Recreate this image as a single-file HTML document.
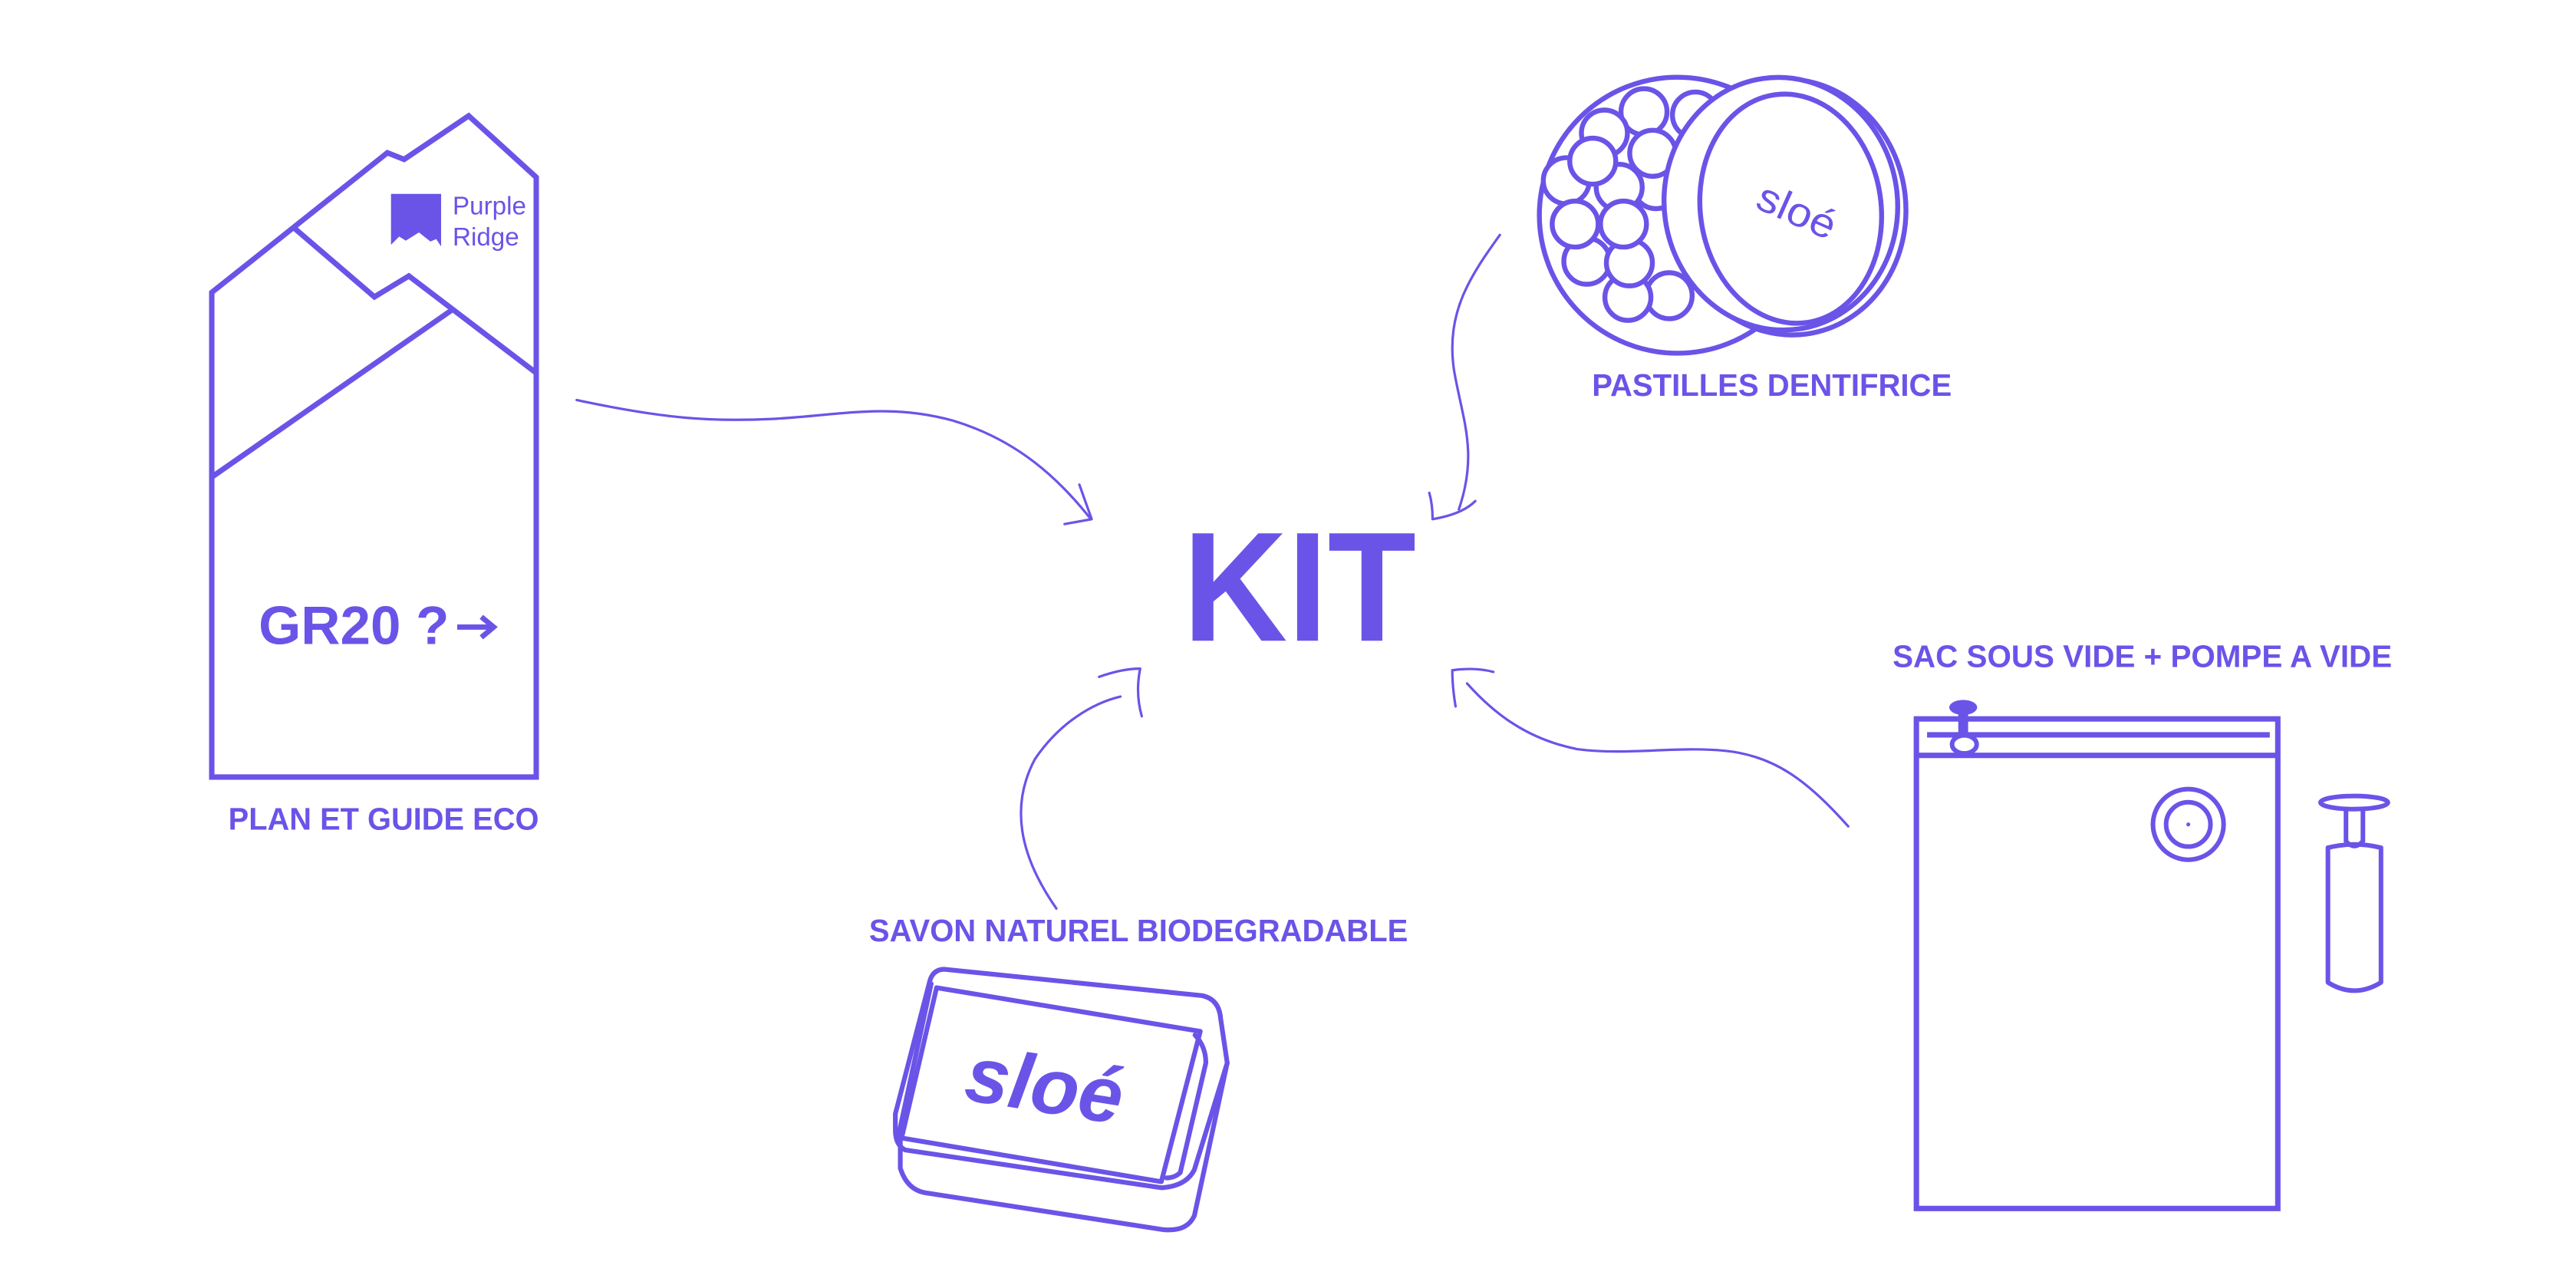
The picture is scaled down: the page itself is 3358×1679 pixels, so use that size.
<!DOCTYPE html>
<html><head><meta charset="utf-8"><style>
html,body{margin:0;padding:0;background:#fff;}
svg{display:block;}
text{font-family:"Liberation Sans",Arial,sans-serif;fill:#6a54e8;}
</style></head><body>
<svg width="3358" height="1679" viewBox="0 0 1568 784" xmlns="http://www.w3.org/2000/svg">
<rect width="1568" height="784" fill="#fff"/>
<g fill="none" stroke="#6a54e8" stroke-linecap="round" stroke-linejoin="round">
  <!-- connectors -->
  <g stroke-width="1.5">
    <path d="M351,243.5 C400,254 430,257 470,255 C510,253 540,245 580,256 C620,268 645,292 664,316"/>
    <path d="M657,295 L664.5,316 L648,319" />
    <path d="M913,143 C895,168 880,190 885,225 C890,255 900,275 888,310"/>
    <path d="M870,300 Q872,307 872,316 Q890,313 898,305"/>
    <path d="M643,553 C620,520 615,490 630,462 C645,440 665,428 682,424"/>
    <path d="M669,412 Q683,407 694,407 Q691,422 695,436"/>
    <path d="M1125,503 C1100,475 1080,460 1050,457 C1020,454 990,460 960,456 C930,450 910,435 893,416"/>
    <path d="M886,430 Q884,418 884,408 Q898,406 909,409"/>
  </g>

  <!-- plan & guide -->
  <g stroke-width="3.3" stroke-linecap="butt" stroke-linejoin="miter">
    <path d="M128.9,473 V178 L235.8,93 L246,97 L285.3,70.5 L326.4,107.9 V473 Z"/>
    <path d="M179.3,139 L227.9,180.7 L248.9,168 L326.4,227"/>
    <path d="M128.9,290.4 L274.6,189"/>
  </g>
  <path d="M278.3,381.7 H300 M293,375.5 L300.5,381.7 L293,388" stroke-width="3.2" stroke-linecap="butt" stroke-linejoin="miter"/>

  <!-- pastilles -->
  <g stroke-width="3" fill="#fff">
    <circle cx="1021" cy="131" r="84"/>
    <circle cx="1032" cy="70" r="14"/>
    <circle cx="1000.7" cy="68" r="14"/>
    <circle cx="976.6" cy="81" r="14"/>
    <circle cx="1016" cy="180" r="14"/>
    <circle cx="990.9" cy="181" r="14"/>
    <circle cx="965.9" cy="159" r="14"/>
    <circle cx="991.8" cy="160" r="14"/>
    <circle cx="1008" cy="113" r="14"/>
    <circle cx="974.8" cy="121" r="14"/>
    <circle cx="953.4" cy="110" r="14"/>
    <circle cx="1006" cy="93.3" r="14"/>
    <circle cx="985.6" cy="114" r="14"/>
    <circle cx="969.5" cy="98.1" r="14"/>
    <circle cx="958.8" cy="136.4" r="14"/>
    <circle cx="988.2" cy="136.4" r="14"/>
    <ellipse cx="1089" cy="126" rx="71" ry="78" transform="rotate(-8 1089 126)"/>
    <ellipse cx="1084" cy="124" rx="71" ry="77" transform="rotate(-8 1084 124)"/>
    <ellipse cx="1090" cy="127" rx="55" ry="70" transform="rotate(-8 1090 127)"/>
  </g>

  <!-- soap -->
  <g stroke-width="2.9">
    <path d="M548,693 L548,711 Q552,724 563,726 L705,748 Q722,751 727,740 L747,647"/>
    <path d="M575,590 L731.5,606 Q742,608 743,620 L747,647 L727,712 Q722,722 707,723 L551,700 Q545,697 545,688 L545,678 L566,597 Q568,590 575,590 Z"/>
    <path d="M570.1,601.2 L730.6,627.8 L706.9,719.3 L548.8,692.7 Z"/>
    <path d="M566.8,598.8 L546.4,693.5"/>
    <path d="M727.4,630 Q734,637 734,647 L718.4,713.8 Q715,717 710,717"/>
  </g>

  <!-- bag -->
  <g stroke-width="3.3" stroke-linecap="butt" stroke-linejoin="miter">
    <rect x="1166.5" y="437.6" width="220" height="298"/>
    <path d="M1166.5,459.8 H1386.5"/>
    <path d="M1173,447.3 H1381.6"/>
  </g>
  <ellipse cx="1195" cy="430.6" rx="8.5" ry="4.6" fill="#6a54e8" stroke="none"/>
  <rect x="1192" y="430" width="6" height="20" fill="#6a54e8" stroke="none"/>
  <ellipse cx="1195.7" cy="453.1" rx="7.5" ry="5.5" fill="#fff" stroke-width="2.8"/>
  <g stroke-width="2.8">
    <circle cx="1332" cy="501.8" r="21.5"/>
    <circle cx="1332" cy="501.8" r="13.5"/>
  </g>
  <circle cx="1332" cy="501.8" r="1.2" fill="#6a54e8" stroke="none"/>
  <g stroke-width="2.8">
    <ellipse cx="1433" cy="488.5" rx="20.5" ry="4"/>
    <path d="M1428,492.5 V512 Q1433,518 1438.3,512 V492.5"/>
    <path d="M1417,516 Q1433,512 1449.3,516 V598 Q1433,608 1417,598 Z"/>
  </g>
</g>

<!-- logo -->
<path d="M238,118 H268.5 V150 L265.5,145.5 L262,147 L255,141.5 L247,146.5 L243,144 L238,149 Z" fill="#6a54e8"/>
<text x="275.5" y="130.5" font-size="15.5">Purple</text>
<text x="275.5" y="149.5" font-size="15.5">Ridge</text>
<text x="157.4" y="392" font-size="33" font-weight="bold" textLength="116" lengthAdjust="spacingAndGlyphs">GR20 ?</text>

<!-- sloé labels -->
<text x="1094" y="137" font-size="25" text-anchor="middle" transform="rotate(24 1094 128)" textLength="50" lengthAdjust="spacingAndGlyphs">sloé</text>
<text x="636" y="677" font-size="48" font-weight="bold" font-style="italic" text-anchor="middle" transform="rotate(9 636 660)">sloé</text>

<!-- captions -->
<text x="139" y="505" font-size="19" font-weight="bold" textLength="189" lengthAdjust="spacingAndGlyphs">PLAN ET GUIDE ECO</text>
<text x="969" y="241" font-size="19" font-weight="bold" textLength="219" lengthAdjust="spacingAndGlyphs">PASTILLES DENTIFRICE</text>
<text x="529" y="573" font-size="19" font-weight="bold" textLength="328" lengthAdjust="spacingAndGlyphs">SAVON NATUREL BIODEGRADABLE</text>
<text x="1152" y="406" font-size="19" font-weight="bold" textLength="304" lengthAdjust="spacingAndGlyphs">SAC SOUS VIDE + POMPE A VIDE</text>
<text x="720" y="390" font-size="95" font-weight="bold" textLength="142" lengthAdjust="spacingAndGlyphs">KIT</text>
</svg>
</body></html>
